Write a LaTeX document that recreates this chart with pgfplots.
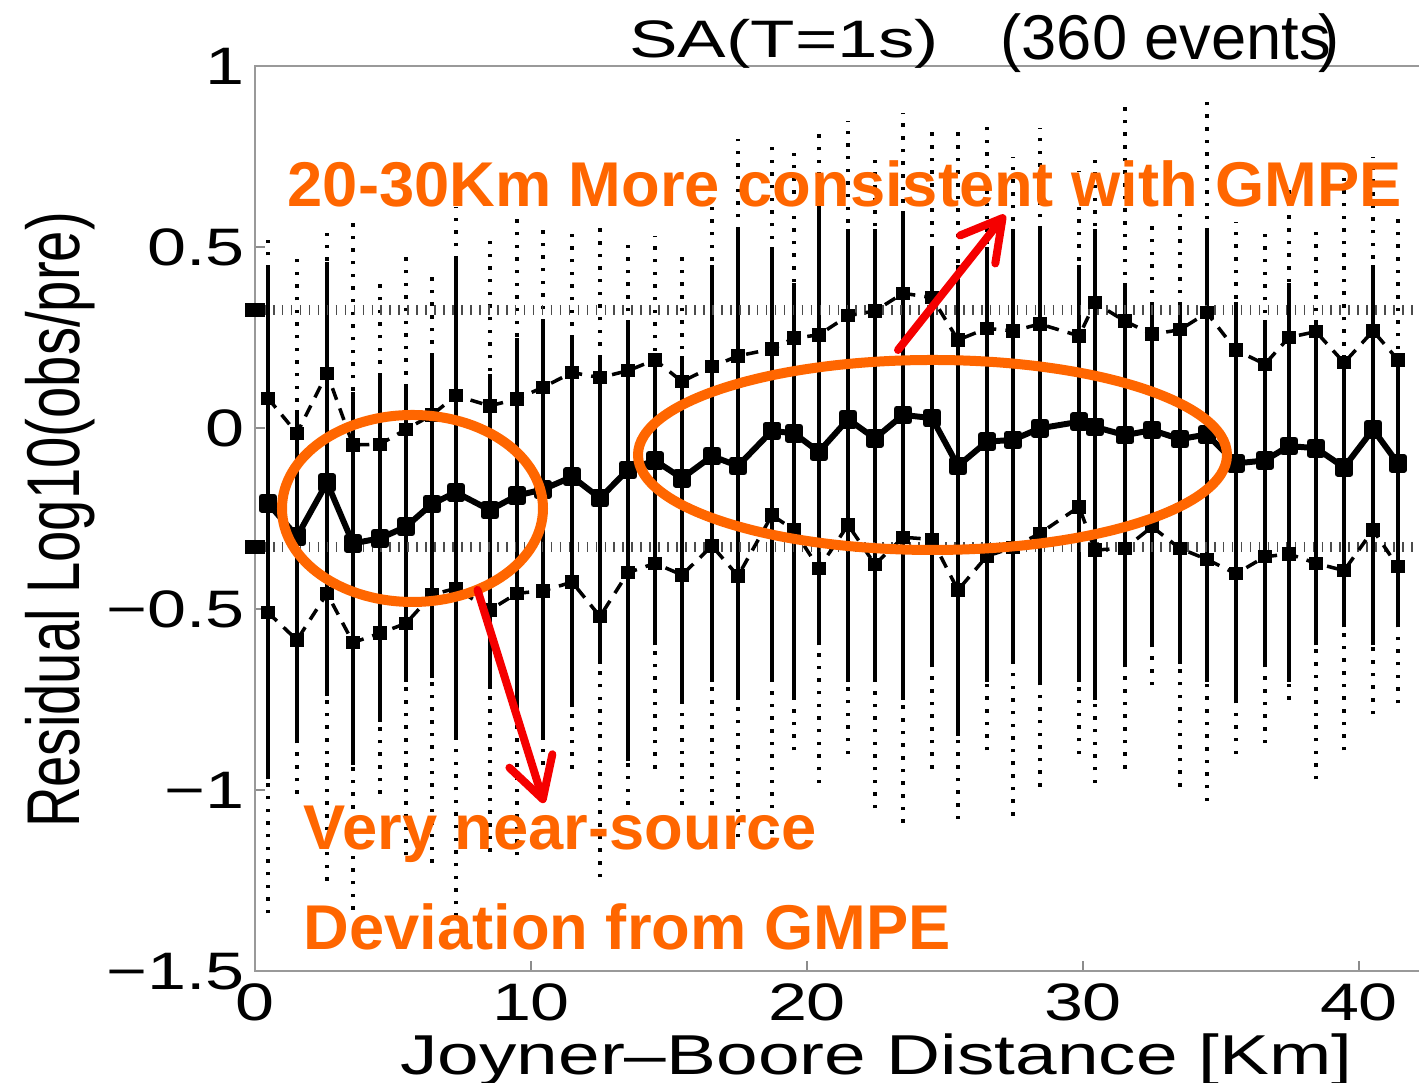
\documentclass[border=0pt]{standalone}
\usepackage{pgfplots}
\pgfplotsset{compat=1.18}
\usepackage{pgfplotstable}
\usepackage{fontspec}
\setmainfont{Liberation Sans}
\usetikzlibrary{arrows.meta}
\definecolor{annot}{RGB}{255,102,0}
\definecolor{arrowred}{RGB}{245,0,0}

% Residual scatter per distance bin: full range (mn..mx) and dense core (lo..hi)
\pgfplotstableread{
x     mn     lo     hi    mx
0.47  -1.34  -0.97  0.45  0.52
1.52  -1.01  -0.86  0.05  0.47
2.61  -1.25  -0.74  0.46  0.54
3.55  -1.33  -0.93  0.10  0.58
4.53  -1.01  -0.81  0.15  0.40
5.47  -1.18  -0.70  0.12  0.48
6.41  -1.20  -0.69  0.20  0.44
7.28  -1.35  -0.86  0.47  0.61
8.51  -1.17  -0.72  0.15  0.52
9.49  -1.18  -0.80  0.25  0.58
10.43 -0.93  -0.85  0.30  0.55
11.49 -0.94  -0.77  0.25  0.55
12.50 -1.24  -0.65  0.20  0.57
13.51 -1.04  -0.92  0.30  0.53
14.49 -0.94  -0.60  0.20  0.53
15.47 -1.04  -0.75  0.20  0.48
16.56 -1.04  -0.70  0.45  0.61
17.50 -1.13  -0.75  0.55  0.80
18.73 -1.12  -0.70  0.50  0.78
19.53 -0.89  -0.75  0.40  0.76
20.43 -0.98  -0.60  0.65  0.83
21.49 -0.90  -0.70  0.55  0.85
22.46 -1.05  -0.70  0.55  0.76
23.48 -1.09  -0.75  0.60  0.87
24.53 -0.94  -0.65  0.50  0.83
25.47 -1.08  -0.85  0.45  0.82
26.52 -0.89  -0.70  0.50  0.85
27.46 -1.07  -0.65  0.55  0.75
28.44 -0.99  -0.70  0.55  0.83
29.86 -0.90  -0.70  0.45  0.71
30.43 -0.98  -0.75  0.55  0.76
31.52 -0.94  -0.65  0.40  0.89
32.50 -0.71  -0.60  0.35  0.58
33.51 -0.99  -0.65  0.35  0.60
34.49 -1.03  -0.70  0.55  0.91
35.54 -0.90  -0.75  0.35  0.57
36.59 -0.87  -0.65  0.30  0.56
37.46 -0.75  -0.70  0.40  0.66
38.44 -0.97  -0.60  0.30  0.56
39.46 -0.89  -0.55  0.20  0.70
40.51 -0.79  -0.60  0.45  0.75
41.41 -0.76  -0.55  0.20  0.59
}\spread

% Bin mean and mean +/- one standard deviation
\pgfplotstableread{
x     mean    up      dn
0.47  -0.207  0.083  -0.509
1.52  -0.299 -0.014  -0.585
2.61  -0.150  0.152  -0.456
3.55  -0.318 -0.046  -0.592
4.53  -0.304 -0.044  -0.566
5.47  -0.272 -0.003  -0.539
6.41  -0.209  0.037  -0.460
7.28  -0.177  0.090  -0.442
8.51  -0.226  0.062  -0.502
9.49  -0.186  0.081  -0.456
10.43 -0.169  0.113  -0.449
11.49 -0.134  0.154  -0.425
12.50 -0.193  0.140  -0.520
13.51 -0.115  0.159  -0.399
14.49 -0.089  0.189  -0.373
15.47 -0.138  0.129  -0.405
16.56 -0.077  0.170  -0.325
17.50 -0.104  0.200  -0.408
18.73 -0.007  0.219  -0.240
19.53 -0.014  0.249  -0.281
20.43 -0.065  0.258  -0.387
21.49  0.025  0.311  -0.267
22.46 -0.028  0.324  -0.376
23.48  0.037  0.373  -0.301
24.53  0.028  0.361  -0.307
25.47 -0.104  0.244  -0.447
26.52 -0.037  0.276  -0.353
27.46 -0.032  0.269  -0.330
28.44  0.000  0.288  -0.290
29.86  0.018  0.255  -0.217
30.43  0.004  0.347  -0.336
31.52 -0.019  0.296  -0.332
32.50 -0.005  0.260  -0.272
33.51 -0.030  0.272  -0.332
34.49 -0.017  0.319  -0.362
35.54 -0.097  0.216  -0.402
36.59 -0.089  0.177  -0.355
37.46 -0.049  0.251  -0.347
38.44 -0.055  0.267  -0.373
39.46 -0.108  0.181  -0.393
40.51 -0.003  0.269  -0.281
41.41 -0.097  0.189  -0.382
}\stats

\begin{document}
\begin{tikzpicture}
\begin{axis}[
  at={(0,0)}, anchor=south west,
  scale only axis, width=11.868cm, height=9.05cm,
  xmin=0, xmax=43, ymin=-1.5, ymax=1,
  xtick={0,10,20,30,40},
  xticklabels={0,10,20,30,40},
  ytick={-1.5,-1,-0.5,0,0.5,1},
  yticklabels={−1.5,−1,−0.5,0,0.5,1},
  tick pos=left, tick align=inside, major tick length=0.1cm,
  tick style={draw=black!45, line width=0.5pt},
  axis line style={draw=black!40, line width=0.6pt},
  ticklabel style={font=\fontsize{15}{18}\selectfont, xscale=1.33},
  yticklabel style={inner xsep=0.07cm},
  clip mode=individual,
]
% sparse outer dots of each column
\addplot[draw=none, mark=none, forget plot,
  error bars/.cd, y dir=plus, y explicit, error mark=none,
  error bar style={draw=black, line width=1pt, dash pattern=on 1pt off 2.6pt}]
  table[x=x, y=mn, y error plus expr=\thisrow{mx}-\thisrow{mn}] {\spread};
% dense core of each column
\addplot[draw=none, mark=none, forget plot,
  error bars/.cd, y dir=plus, y explicit, error mark=none,
  error bar style={draw=black, line width=1.1pt, solid}]
  table[x=x, y=lo, y error plus expr=\thisrow{hi}-\thisrow{lo}] {\spread};
% GMPE standard deviation
\addplot[black!70, line width=2.8pt, dash pattern=on 0.45pt off 2.1pt, forget plot]
  coordinates {(0,0.327) (43,0.327)};
\addplot[black!70, line width=2.8pt, dash pattern=on 0.45pt off 2.1pt, forget plot]
  coordinates {(0,-0.327) (43,-0.327)};
\addplot[only marks, mark=square*, mark size=1.8pt, mark options={xscale=1.5, black}, forget plot]
  coordinates {(0,0.327) (0,-0.327)};
% mean +/- sigma
\addplot[black, line width=1pt, dash pattern=on 3.5pt off 2.6pt,
  mark=square*, mark size=1.4pt, mark options={solid}]
  table[x=x, y=up] {\stats};
\addplot[black, line width=1pt, dash pattern=on 3.5pt off 2.6pt,
  mark=square*, mark size=1.4pt, mark options={solid}]
  table[x=x, y=dn] {\stats};
% bin mean
\addplot[black, line width=1.7pt, line join=round,
  mark=square*, mark size=1.8pt]
  table[x=x, y=mean] {\stats};
\end{axis}

% titles and axis labels
\node[anchor=base, font=\fontsize{15}{18}\selectfont, xscale=1.38, inner sep=0] at (5.29,9.133) {SA(T=1s)};
\node[anchor=base west, font=\fontsize{18}{21}\selectfont, inner sep=0] at (7.45,9.113) {(360 events\kern-0.2em)};
\node[anchor=base, font=\fontsize{16}{19}\selectfont, xscale=1.33, inner sep=0] at (6.215,-1.037) {Joyner–Boore Distance [Km]};
\node[xscale=1.33, rotate=90, anchor=base, font=\fontsize{16}{19}\selectfont, inner sep=0] at (-1.75,4.513) {Residual Log10(obs/pre)};

% annotations
\draw[annot, line width=0.1cm] (1.575,4.628) ellipse [x radius=1.305cm, y radius=0.935cm];
\draw[annot, line width=0.1cm] (6.775,5.163) ellipse [x radius=2.945cm, y radius=0.95cm];
\draw[arrowred, line width=0.08cm, line cap=round,
  -{Straight Barb[length=0.4cm, width=0.45cm, round]}] (2.225,3.813) -- (2.89,1.683);
\draw[arrowred, line width=0.08cm, line cap=round,
  -{Straight Barb[length=0.4cm, width=0.45cm, round]}] (6.43,6.213) -- (7.50,7.563);
\begin{scope}[annot, font=\fontsize{18}{22}\selectfont\bfseries]
\node[anchor=base west, inner sep=0] at (0.32,7.646) {20-30Km More consistent with GMPE};
\node[anchor=base west, inner sep=0] at (0.48,1.213) {Very near-source};
\node[anchor=base west, inner sep=0] at (0.48,0.213) {Deviation from GMPE};
\end{scope}

\pgfresetboundingbox
\useasboundingbox (-2.55,-1.117) rectangle (11.64,9.713);
\end{tikzpicture}
\end{document}
